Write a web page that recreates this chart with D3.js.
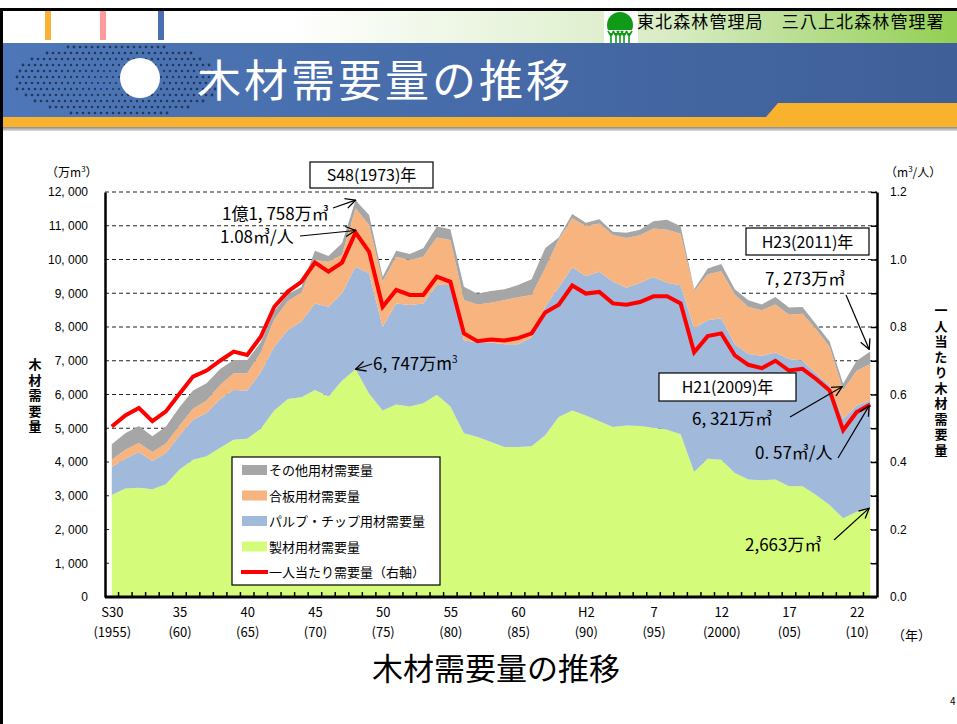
<!DOCTYPE html>
<html>
<head>
<meta charset="utf-8">
<script src="https://d3js.org/d3.v7.min.js"></script>
<style>
  body { margin: 0; background: #fff; }
  svg { display: block; font-family: "Noto Sans CJK JP", sans-serif; }
  .tick text { font-size: 12px; fill: #000; }
  .annot { font-size: 17px; fill: #000; }
  .vtitle { writing-mode: vertical-rl; text-orientation: upright; font-size: 13px; font-weight: bold; letter-spacing: 2.5px; }
</style>
</head>
<body>
<script>
// ---- data (万m3, per capita m3/人) ----
const years = [1955,1956,1957,1958,1959,1960,1961,1962,1963,1964,1965,1966,1967,1968,1969,
  1970,1971,1972,1973,1974,1975,1976,1977,1978,1979,1980,1981,1982,1983,1984,1985,1986,1987,
  1988,1989,1990,1991,1992,1993,1994,1995,1996,1997,1998,1999,2000,2001,2002,2003,2004,2005,
  2006,2007,2008,2009,2010,2011];
const seizai = [3020,3215,3235,3195,3340,3775,4070,4170,4425,4660,4690,4985,5525,5870,5920,
  6135,5940,6410,6747,6020,5525,5705,5645,5740,5995,5645,4855,4740,4590,4445,4445,4465,4790,
  5330,5525,5380,5210,5035,5085,5065,5015,4955,4820,3705,4100,4070,3675,3480,3460,3480,3285,
  3285,3020,2725,2330,2525,2663];
const pulp = [835,885,1065,835,930,1015,1180,1280,1445,1475,1425,1675,1895,2040,2240,
  2565,2660,2590,3038,3570,2485,2995,3005,2960,3250,3600,2755,2800,2950,3045,3045,3235,3810,
  3845,4245,4130,4430,4310,4080,4245,4465,4355,4415,4260,4100,4190,3820,3720,3690,3765,3765,
  3715,3605,3540,2950,3150,3157];
const gouban = [215,265,260,270,275,295,325,370,415,495,515,585,810,860,855,
  1285,1335,1135,1730,1430,1335,1385,1335,1385,1410,1335,1190,1130,1180,1310,1390,1245,1140,
  1425,1450,1480,1430,1380,1475,1410,1435,1575,1525,1100,1360,1395,1470,1395,1345,1425,1310,
  1395,1310,1145,855,1030,1085];
const other = [458,490,505,460,510,540,540,510,470,390,390,295,245,200,170,
  275,170,345,243,300,145,175,180,245,320,315,395,315,345,315,365,470,590,
  55,130,100,120,100,150,165,215,295,225,50,175,215,150,195,175,220,215,
  200,150,160,186,295,368];
const perCapita = [0.505,0.538,0.560,0.521,0.550,0.602,0.653,0.671,0.700,0.727,0.717,0.771,0.860,0.905,0.934,
  0.991,0.964,0.991,1.08,1.023,0.860,0.910,0.895,0.895,0.949,0.934,0.781,0.758,0.763,0.760,0.767,0.781,0.843,
  0.866,0.923,0.899,0.904,0.870,0.866,0.874,0.891,0.891,0.870,0.725,0.773,0.781,0.716,0.688,0.678,0.700,0.671,
  0.676,0.646,0.612,0.494,0.548,0.57];

const seriesKeys = ["seizai", "pulp", "gouban", "other"];
const seriesNames = ["製材用材需要量", "パルプ・チップ用材需要量", "合板用材需要量", "その他用材需要量"];
const seriesColors = ["#d4fc7a", "#a1b9db", "#f8b47e", "#a6a6a6"];
const lineName = "一人当たり需要量（右軸）";

const xLabelYears = [1955,1960,1965,1970,1975,1980,1985,1990,1995,2000,2005,2010];
const xLabelTop = ["S30","35","40","45","50","55","60","H2","7","12","17","22"];
const xLabelBottom = ["(1955)","(60)","(65)","(70)","(75)","(80)","(85)","(90)","(95)","(2000)","(05)","(10)"];
const leftTicks = [0,1000,2000,3000,4000,5000,6000,7000,8000,9000,10000,11000,12000];
const rightTicks = [0,0.1,0.2,0.3,0.4,0.5,0.6,0.7,0.8,0.9,1.0,1.1,1.2];

// ---- page ----
const W = 957, H = 724;
const svg = d3.select("body").append("svg").attr("width", W).attr("height", H);
const defs = svg.append("defs");

// header gradients
const gTop = defs.append("linearGradient").attr("id", "gTop");
gTop.append("stop").attr("offset", "0%").attr("stop-color", "#ffffff");
gTop.append("stop").attr("offset", "30%").attr("stop-color", "#ffffff");
gTop.append("stop").attr("offset", "70%").attr("stop-color", "#d8ecc4");
gTop.append("stop").attr("offset", "100%").attr("stop-color", "#92cf52");
const gBlue = defs.append("linearGradient").attr("id", "gBlue");
gBlue.append("stop").attr("offset", "0%").attr("stop-color", "#4d77b8");
gBlue.append("stop").attr("offset", "100%").attr("stop-color", "#3f5f98");
const gShadow = defs.append("linearGradient").attr("id", "gShadow").attr("x2", 0).attr("y2", 1);
gShadow.append("stop").attr("offset", "0%").attr("stop-color", "#8a8a8a");
gShadow.append("stop").attr("offset", "100%").attr("stop-color", "#e0e0e0");

svg.append("rect").attr("x", 3).attr("y", 11).attr("width", W - 3).attr("height", 32).attr("fill", "url(#gTop)");
[["#f9b233", 45], ["#ff9a9a", 100], ["#4a70b2", 158]].forEach(([c, x]) => {
  svg.append("rect").attr("x", x).attr("y", 11).attr("width", 6).attr("height", 29).attr("fill", c);
});

// logo
svg.append("rect").attr("x", 604).attr("y", 11).attr("width", 34).attr("height", 33).attr("fill", "#fff");
svg.append("circle").attr("cx", 620).attr("cy", 25).attr("r", 13).attr("fill", "#0f9a18");
svg.append("rect").attr("x", 606).attr("y", 30).attr("width", 28).attr("height", 14).attr("fill", "#fff");
[611, 616, 620, 624, 629].forEach(x => {
  svg.append("path").attr("d", `M${x},43 L${x},33 M${x},36 L${x - 3},31 M${x},36 L${x + 3},31`)
    .attr("stroke", "#0f9a18").attr("stroke-width", 1.6).attr("fill", "none");
});
svg.append("text").attr("x", 637).attr("y", 28).attr("font-size", 17).attr("letter-spacing", 1.1)
  .attr("fill", "#000").text("東北森林管理局　三八上北森林管理署");

// blue title band
svg.append("rect").attr("x", 3).attr("y", 43).attr("width", W - 3).attr("height", 75).attr("fill", "url(#gBlue)");
for (let gy = 47, row = 0; gy < 116; gy += 6, row++) {
  for (let gx = 14 + (row % 2) * 3; gx < 222; gx += 6) {
    const dx = (gx - 118) / 104, dy = (gy - 80) / 38;
    const r2 = dx * dx + dy * dy;
    if (r2 < 1) {
      svg.append("circle").attr("cx", gx).attr("cy", gy).attr("r", 1.1 + 0.3 * r2)
        .attr("fill", "#1e2c4a").attr("opacity", 0.85);
    }
  }
}
svg.append("circle").attr("cx", 140).attr("cy", 78).attr("r", 20).attr("fill", "#fff");
svg.append("text").attr("x", 197).attr("y", 97).attr("font-size", 44).attr("letter-spacing", 3)
  .attr("fill", "#fff").text("木材需要量の推移");
svg.append("path").attr("d", "M3,117 L766,117 L778,103 L957,103 L957,127 L3,127 Z").attr("fill", "#f9b22e");
svg.append("rect").attr("x", 3).attr("y", 127).attr("width", W - 3).attr("height", 4).attr("fill", "url(#gShadow)");

// borders
svg.append("rect").attr("x", 0).attr("y", 8).attr("width", W).attr("height", 3).attr("fill", "#000");
svg.append("rect").attr("x", 0).attr("y", 8).attr("width", 3).attr("height", H - 8).attr("fill", "#000");

// ---- chart ----
const plotLeft = 105, plotRight = 877, plotTop = 192, plotBottom = 597;
const x = d3.scalePoint().domain(years).range([plotLeft, plotRight]).padding(0.5);
const xBand = d3.scaleBand().domain(years).range([plotLeft, plotRight]);
const yL = d3.scaleLinear().domain([0, 12000]).range([plotBottom, plotTop]);
const yR = d3.scaleLinear().domain([0, 1.2]).range([plotBottom, plotTop]);

const table = years.map((yr, i) => ({
  year: yr, seizai: seizai[i], pulp: pulp[i], gouban: gouban[i], other: other[i], perCapita: perCapita[i]
}));
const stacked = d3.stack().keys(seriesKeys)(table);

// gridlines
svg.append("g").selectAll("line").data(leftTicks.filter(d => d > 0)).join("line")
  .attr("x1", plotLeft).attr("x2", plotRight).attr("y1", d => yL(d)).attr("y2", d => yL(d))
  .attr("stroke", "#222").attr("stroke-width", 1).attr("stroke-dasharray", "4,3");

// areas
const area = d3.area().x(d => x(d.data.year)).y0(d => yL(d[0])).y1(d => yL(d[1]));
svg.append("g").selectAll("path").data(stacked).join("path")
  .attr("d", area).attr("fill", (d, i) => seriesColors[i]);

// per capita line
const line = d3.line().x(d => x(d.year)).y(d => yR(d.perCapita));
svg.append("path").datum(table).attr("d", line).attr("fill", "none")
  .attr("stroke", "#ff0000").attr("stroke-width", 4).attr("stroke-linejoin", "miter");

// axes
const axL = svg.append("g").attr("transform", `translate(${plotLeft},0)`)
  .call(d3.axisLeft(yL).tickValues(leftTicks).tickSize(0).tickPadding(17)
    .tickFormat(d => d3.format(",")(d).replace(",", ", ")));
axL.select(".domain").attr("stroke", "#000").attr("stroke-width", 2.5);

const axR = svg.append("g").attr("transform", `translate(${plotRight},0)`)
  .call(d3.axisRight(yR).tickValues(rightTicks).tickSizeInner(-6).tickSizeOuter(0).tickPadding(13)
    .tickFormat(d => (Math.round(d * 10) % 2 === 0 ? d3.format(".1f")(d) : "")));
axR.select(".domain").attr("stroke", "#000").attr("stroke-width", 2.5);
axR.selectAll(".tick line").attr("stroke", "#000").attr("stroke-width", 1.5);

// x ticks on category boundaries
svg.append("g").selectAll("line").data(years.slice(1)).join("line")
  .attr("x1", d => xBand(d)).attr("x2", d => xBand(d)).attr("y1", plotBottom - 5).attr("y2", plotBottom)
  .attr("stroke", "#000").attr("stroke-width", 1.5);
svg.append("line").attr("x1", plotLeft).attr("x2", plotRight).attr("y1", plotBottom).attr("y2", plotBottom)
  .attr("stroke", "#000").attr("stroke-width", 3);

const axX = svg.append("g").attr("transform", `translate(0,${plotBottom})`)
  .call(d3.axisBottom(x).tickValues(xLabelYears).tickSize(0).tickPadding(0).tickFormat(""));
axX.select(".domain").remove();
axX.selectAll(".tick").each(function (d, i) {
  const t = d3.select(this).append("text").attr("text-anchor", "middle")
    .style("font-family", "'Liberation Sans Narrow', 'Noto Sans CJK JP', sans-serif").style("font-size", "13px");
  t.append("tspan").attr("x", 0).attr("y", 20).text(xLabelTop[i]);
  t.append("tspan").attr("x", 0).attr("y", 40).text(xLabelBottom[i]);
});

// axis units & titles
const unitL = svg.append("text").attr("x", 46).attr("y", 177).attr("font-size", 12);
unitL.append("tspan").text("（万m");
unitL.append("tspan").attr("font-size", 8).attr("dy", -5).text("3");
unitL.append("tspan").attr("dy", 5).text("）");
const unitR = svg.append("text").attr("x", 885).attr("y", 177).attr("font-size", 12);
unitR.append("tspan").text("（m");
unitR.append("tspan").attr("font-size", 8).attr("dy", -5).text("3");
unitR.append("tspan").attr("dy", 5).text("/人）");
svg.append("text").attr("x", 892).attr("y", 640).attr("font-size", 13).text("（年）");

svg.append("text").attr("class", "vtitle").attr("x", 35).attr("y", 358).text("木材需要量");
svg.append("text").attr("class", "vtitle").attr("x", 941).attr("y", 304).text("一人当たり木材需要量");

svg.append("text").attr("x", 496).attr("y", 680).attr("text-anchor", "middle")
  .attr("font-size", 31).text("木材需要量の推移");
svg.append("text").attr("x", 950).attr("y", 705).attr("font-size", 10).text("4");

// legend
const lg = svg.append("g");
lg.append("rect").attr("x", 232).attr("y", 457).attr("width", 208).attr("height", 128)
  .attr("fill", "#fff").attr("stroke", "#000").attr("stroke-width", 1.2);
const legendItems = [3, 2, 1, 0].map(i => ({ name: seriesNames[i], color: seriesColors[i], kind: "rect" }))
  .concat([{ name: lineName, color: "#ff0000", kind: "line" }]);
legendItems.forEach((it, i) => {
  const cy = 470 + i * 25.5;
  if (it.kind === "rect") {
    lg.append("rect").attr("x", 242).attr("y", cy - 5).attr("width", 25).attr("height", 10).attr("fill", it.color);
  } else {
    lg.append("line").attr("x1", 241).attr("x2", 268).attr("y1", cy).attr("y2", cy)
      .attr("stroke", it.color).attr("stroke-width", 4);
  }
  lg.append("text").attr("x", 269).attr("y", cy + 5).attr("font-size", 13).text(it.name);
});

// ---- annotations ----
defs.append("marker").attr("id", "arr").attr("viewBox", "0 0 12 12").attr("refX", 11).attr("refY", 6)
  .attr("markerWidth", 12).attr("markerHeight", 12).attr("markerUnits", "userSpaceOnUse").attr("orient", "auto")
  .append("path").attr("d", "M1,1 L11,6 L1,11").attr("fill", "none").attr("stroke", "#000").attr("stroke-width", 1.3);

function arrow(x1, y1, x2, y2) {
  svg.append("line").attr("x1", x1).attr("y1", y1).attr("x2", x2).attr("y2", y2)
    .attr("stroke", "#000").attr("stroke-width", 1.2).attr("marker-end", "url(#arr)");
}
function box(bx, by, bw, bh, label) {
  svg.append("rect").attr("x", bx).attr("y", by).attr("width", bw).attr("height", bh)
    .attr("fill", "#fff").attr("stroke", "#000").attr("stroke-width", 1.2);
  svg.append("text").attr("x", bx + bw / 2).attr("y", by + bh / 2 + 6).attr("text-anchor", "middle")
    .attr("font-size", 16).text(label);
}
const idx = yr => years.indexOf(yr);
const total = i => seizai[i] + pulp[i] + gouban[i] + other[i];

box(310, 162, 123, 26, "S48(1973)年");
box(746, 228, 123, 27, "H23(2011)年");
box(659, 373, 137, 28, "H21(2009)年");

const i73 = idx(1973), i09 = idx(2009), i11 = idx(2011);
svg.append("text").attr("class", "annot").attr("x", 222).attr("y", 220).text("1億1, 758万㎥");
arrow(333, 208, x(1973), yL(total(i73)));
svg.append("text").attr("class", "annot").attr("x", 220).attr("y", 243).text("1.08㎥/人");
arrow(300, 236, x(1973), yR(perCapita[i73]) - 2);

const t6747 = svg.append("text").attr("class", "annot").attr("x", 373).attr("y", 370);
t6747.append("tspan").text("6, 747万m");
t6747.append("tspan").attr("font-size", 10).attr("dy", -7).text("3");
arrow(372, 364, x(1973), yL(seizai[i73]));

svg.append("text").attr("class", "annot").attr("x", 765).attr("y", 285).text("7, 273万㎥");
arrow(846, 295, x(2011) - 1, yL(total(i11)) - 2);

svg.append("text").attr("class", "annot").attr("x", 692).attr("y", 425).text("6, 321万㎥");
arrow(790, 417, x(2009) - 1, yL(total(i09)) + 3);

svg.append("text").attr("class", "annot").attr("x", 755).attr("y", 459).text("0. 57㎥/人");
arrow(838, 458, x(2011) - 1, yR(perCapita[i11]) + 1);

svg.append("text").attr("class", "annot").attr("x", 745).attr("y", 551).text("2,663万㎥");
arrow(834, 540, x(2011) - 1, yL(seizai[i11]) + 1);
</script>
</body>
</html>
